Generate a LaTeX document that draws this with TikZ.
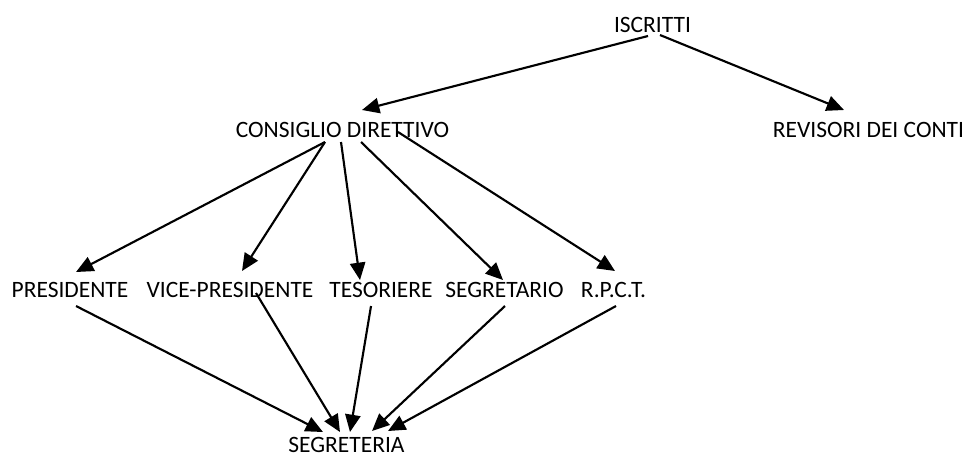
\documentclass[tikz,border=0pt]{standalone}
\usepackage{fontspec}
\setmainfont{Carlito}
\usetikzlibrary{arrows.meta,calc}
\begin{document}
\begin{tikzpicture}[x=0.75pt,y=-0.75pt,
  lbl/.style={inner sep=0pt,anchor=base,font=\fontsize{17.6pt}{20pt}\selectfont},
  arr/.style={line width=1.6pt,-{Triangle[length=13pt,width=11.5pt]}}]
\useasboundingbox (0,0) rectangle (969,455);
\node[lbl] (isc)  at (652.5,32) {ISCRITTI};
\node[lbl] (cd)   at (342.5,137) {CONSIGLIO DIRETTIVO};
\node[lbl] (rev)  at (868.5,137) {REVISORI DEI CONTI};
\node[lbl] (pres) at (70,297) {PRESIDENTE};
\node[lbl] (vice) at (230,297) {VICE-PRESIDENTE};
\node[lbl] (tes)  at (381,297) {TESORIERE};
\node[lbl] (segr) at (504.5,297) {SEGRETARIO};
\node[lbl] (rpct) at (613.5,297) {R.P.C.T.};
\node[lbl] (segt) at (346.5,452.5) {SEGRETERIA};
% top level
\draw[arr] ($(isc.base)+(-4.5,4)$) -- ($(cd.base)+(19.5,-27)$);
\draw[arr] ($(isc.base)+(7.5,3)$) -- ($(rev.base)+(-24.5,-27)$);
% consiglio to row
\draw[arr] ($(cd.base)+(-17.5,5)$) -- ($(pres.base)+(6,-25)$);
\draw[arr] ($(cd.base)+(-17.5,5)$) -- ($(vice.base)+(12,-26)$);
\draw[arr] ($(cd.base)+(-1.5,5)$) -- ($(tes.base)+(-21,-17)$);
\draw[arr] ($(cd.base)+(18.5,5)$) -- ($(segr.base)+(-1.5,-17)$);
\draw[arr] ($(cd.base)+(55.5,-5)$) -- ($(rpct.base)+(1.5,-26)$);
% row to segreteria
\draw[arr] ($(pres.base)+(6,9)$) -- ($(segt.base)+(-23.5,-20.5)$);
\draw[arr] ($(vice.base)+(26,-4)$) -- ($(segt.base)+(-6.5,-20.5)$);
\draw[arr] ($(tes.base)+(-10,9)$) -- ($(segt.base)+(3.5,-20.5)$);
\draw[arr] ($(segr.base)+(0.5,9)$) -- ($(segt.base)+(25.5,-21.5)$);
\draw[arr] ($(rpct.base)+(2.5,9)$) -- ($(segt.base)+(41.5,-21.5)$);
\end{tikzpicture}
\end{document}
